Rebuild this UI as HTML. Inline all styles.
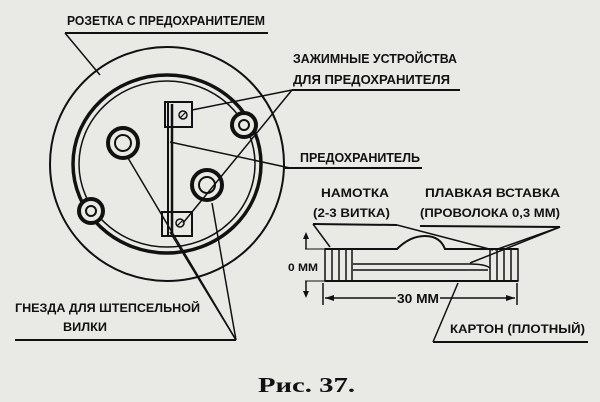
<!DOCTYPE html>
<html><head><meta charset="utf-8"><style>
html,body{margin:0;padding:0;background:#e9e9e6;}
svg{display:block}
text{font-family:"Liberation Sans",sans-serif;font-weight:bold;fill:#111;}
</style></head><body>
<svg width="600" height="402" viewBox="0 0 600 402" xmlns="http://www.w3.org/2000/svg">
<rect width="600" height="402" fill="#e9e9e6"/>
<g stroke="#111" fill="none">
<circle cx="167" cy="164" r="117" stroke-width="2"/>
<ellipse cx="167" cy="164" rx="94" ry="89" stroke-width="3.5"/>
<ellipse cx="167" cy="164" rx="88" ry="83" stroke-width="1.5"/>
<circle cx="123" cy="143" r="15" stroke-width="4" fill="#e9e9e6"/>
<circle cx="123" cy="143" r="8" stroke-width="2"/>
<circle cx="207" cy="185" r="15" stroke-width="4" fill="#e9e9e6"/>
<circle cx="207" cy="185" r="8" stroke-width="2"/>
<circle cx="244" cy="125" r="12" stroke-width="4" fill="#e9e9e6"/>
<circle cx="244" cy="125" r="5" stroke-width="2"/>
<circle cx="91" cy="211" r="12" stroke-width="4" fill="#e9e9e6"/>
<circle cx="91" cy="211" r="5" stroke-width="2"/>
<rect x="165" y="102" width="27" height="25" stroke-width="2" fill="#e9e9e6"/>
<rect x="162" y="212" width="30" height="24" stroke-width="2" fill="#e9e9e6"/>
<line x1="168" y1="102" x2="168" y2="236" stroke-width="2"/>
<line x1="172" y1="104" x2="172" y2="234" stroke-width="2.5"/>
<circle cx="183" cy="115" r="4" stroke-width="1.5"/>
<line x1="180" y1="118" x2="186" y2="112" stroke-width="1.2"/>
<circle cx="180" cy="223" r="4" stroke-width="1.5"/>
<line x1="177" y1="226" x2="183" y2="220" stroke-width="1.2"/>
<line x1="65" y1="33" x2="268" y2="33" stroke-width="2"/>
<line x1="65" y1="33" x2="100" y2="75" stroke-width="1.5"/>
<line x1="292" y1="90" x2="460" y2="90" stroke-width="2"/>
<line x1="292" y1="90" x2="192" y2="110" stroke-width="1.5"/>
<line x1="292" y1="90" x2="183" y2="223" stroke-width="1.5"/>
<line x1="283" y1="168" x2="422" y2="168" stroke-width="2"/>
<line x1="290" y1="168" x2="170" y2="142" stroke-width="1.5"/>
<line x1="15" y1="340" x2="236" y2="340" stroke-width="2"/>
<line x1="236" y1="340" x2="128" y2="158" stroke-width="1.5"/>
<line x1="236" y1="340" x2="212" y2="203" stroke-width="1.5"/>
<line x1="236" y1="340" x2="170" y2="232" stroke-width="1.5"/>
<path d="M325 249 H397 Q410 236 425 236 Q440 236 445 249 H518" stroke-width="2"/>
<line x1="325" y1="281" x2="518" y2="281" stroke-width="2"/>
<path d="M353 264 H470 Q485 264 490 268 M353 270 H488" stroke-width="1.5"/>
<rect x="325" y="249" width="27" height="32" stroke-width="1.5"/>
<line x1="332" y1="249" x2="332" y2="281" stroke-width="1.5"/>
<line x1="339" y1="249" x2="339" y2="281" stroke-width="1.5"/>
<line x1="346" y1="249" x2="346" y2="281" stroke-width="1.5"/>
<rect x="490" y="249" width="28" height="32" stroke-width="1.5"/>
<line x1="497" y1="249" x2="497" y2="281" stroke-width="1.5"/>
<line x1="504" y1="249" x2="504" y2="281" stroke-width="1.5"/>
<line x1="511" y1="249" x2="511" y2="281" stroke-width="1.5"/>
<line x1="305" y1="249" x2="325" y2="249" stroke-width="1"/>
<line x1="305" y1="281" x2="325" y2="281" stroke-width="1"/>
<line x1="306" y1="237" x2="306" y2="249" stroke-width="1.5"/>
<line x1="306" y1="281" x2="306" y2="293" stroke-width="1.5"/>
<line x1="323" y1="283" x2="323" y2="305" stroke-width="1.5"/>
<line x1="517" y1="283" x2="517" y2="305" stroke-width="1.5"/>
<line x1="325" y1="298" x2="396" y2="298" stroke-width="1.5"/>
<line x1="440" y1="298" x2="515" y2="298" stroke-width="1.5"/>
<line x1="313" y1="224" x2="397" y2="225" stroke-width="2"/>
<line x1="313" y1="224" x2="330" y2="247" stroke-width="1.5"/>
<line x1="397" y1="225" x2="493" y2="250" stroke-width="1.5"/>
<line x1="420" y1="226" x2="560" y2="227" stroke-width="2"/>
<line x1="560" y1="227" x2="495" y2="250" stroke-width="1.5"/>
<line x1="560" y1="227" x2="470" y2="263" stroke-width="1.5"/>
<line x1="433" y1="342" x2="588" y2="342" stroke-width="2"/>
<line x1="433" y1="342" x2="458" y2="283" stroke-width="1.5"/>
</g>
<g fill="#111">
<path d="M306 232 l-3 7 h6z M306 298 l-3 -7 h6z M325 298 l9 -3 v6z M515 298 l-9 -3 v6z"/>
</g>
<text x="67" y="25" font-size="13" textLength="198" lengthAdjust="spacingAndGlyphs">РОЗЕТКА С ПРЕДОХРАНИТЕЛЕМ</text>
<text x="293" y="63" font-size="13" textLength="164" lengthAdjust="spacingAndGlyphs">ЗАЖИМНЫЕ УСТРОЙСТВА</text>
<text x="293" y="84" font-size="13" textLength="157" lengthAdjust="spacingAndGlyphs">ДЛЯ ПРЕДОХРАНИТЕЛЯ</text>
<text x="300" y="162" font-size="13" textLength="120" lengthAdjust="spacingAndGlyphs">ПРЕДОХРАНИТЕЛЬ</text>
<text x="15" y="312" font-size="12" textLength="185" lengthAdjust="spacingAndGlyphs">ГНЕЗДА ДЛЯ ШТЕПСЕЛЬНОЙ</text>
<text x="63" y="331" font-size="12" textLength="44" lengthAdjust="spacingAndGlyphs">ВИЛКИ</text>
<text x="321" y="197" font-size="12" textLength="68" lengthAdjust="spacingAndGlyphs">НАМОТКА</text>
<text x="313" y="217" font-size="12" textLength="77" lengthAdjust="spacingAndGlyphs">(2-3 ВИТКА)</text>
<text x="425" y="197" font-size="12" textLength="135" lengthAdjust="spacingAndGlyphs">ПЛАВКАЯ ВСТАВКА</text>
<text x="420" y="217" font-size="12" textLength="140" lengthAdjust="spacingAndGlyphs">(ПРОВОЛОКА 0,3 ММ)</text>
<text x="288" y="271" font-size="11" textLength="30" lengthAdjust="spacingAndGlyphs">0 ММ</text>
<text x="397" y="303" font-size="13" textLength="42" lengthAdjust="spacingAndGlyphs">30 ММ</text>
<text x="450" y="333" font-size="12" textLength="135" lengthAdjust="spacingAndGlyphs">КАРТОН (ПЛОТНЫЙ)</text>
<text x="258" y="392" font-size="21" style="font-family:'Liberation Serif',serif" textLength="97" lengthAdjust="spacingAndGlyphs">Рис. 37.</text>
</svg>
</body></html>
